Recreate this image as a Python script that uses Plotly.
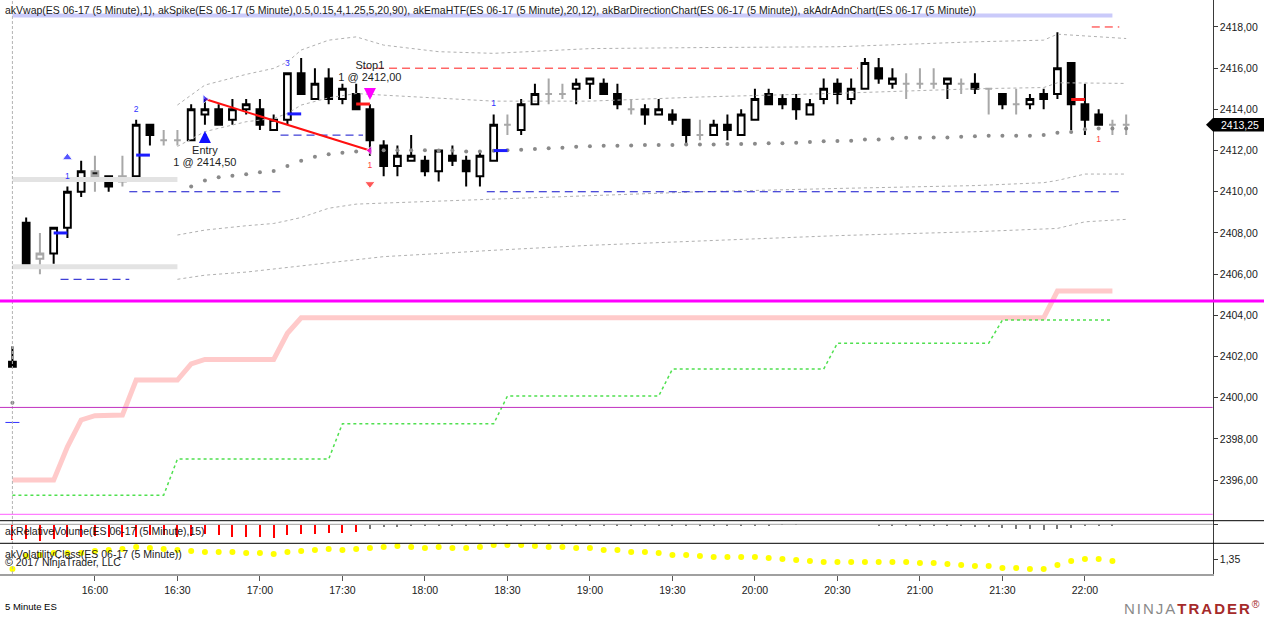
import pandas as pd
import plotly.graph_objects as go

W, H = 1264, 617
DAY = "2017-05-18 "

# one 5-minute bar every step, first one is the last bar before the session break
bar_time = pd.date_range(DAY + "15:30", periods=82, freq="5min")
time_ticks = ["16:00", "16:30", "17:00", "17:30", "18:00", "18:30", "19:00",
              "19:30", "20:00", "20:30", "21:00", "21:30", "22:00"]

bar_open = [2401.75, 2408.5, 2406.75, 2407.0, 2408.25, 2410.0, 2411.0, 2410.75, 2410.5, 2410.75,
            2413.25, 2412.5, 2412.5, 2412.5, 2413.75, 2414.0, 2413.5, 2414.0, 2414.0, 2413.0,
            2413.5, 2415.75, 2414.5, 2415.5, 2414.5, 2414.75, 2414.0, 2412.25, 2411.25, 2411.5,
            2411.5, 2411.0, 2411.75, 2411.5, 2410.75, 2411.5, 2413.25, 2413.0, 2414.25, 2414.75,
            2414.75, 2415.0, 2415.25, 2415.25, 2414.75, 2414.0, 2414.0, 2413.75, 2413.75, 2413.5,
            2412.75, 2412.75, 2413.25, 2412.75, 2413.5, 2414.75, 2414.5, 2414.5, 2413.75, 2414.5,
            2415.25, 2414.5, 2415.0, 2416.0, 2415.25, 2415.25, 2415.25, 2415.25, 2415.25, 2415.25,
            2415.25, 2415.0, 2414.75, 2414.25, 2414.25, 2414.75, 2414.75, 2416.25, 2414.25, 2413.75,
            2413.25, 2413.25]
bar_high = [2402.5, 2408.75, 2408.0, 2408.25, 2410.25, 2411.5, 2411.75, 2410.75, 2411.75, 2413.5,
            2413.25, 2413.0, 2413.0, 2414.25, 2414.5, 2414.25, 2414.5, 2414.5, 2414.5, 2413.75,
            2415.75, 2416.5, 2416.0, 2416.0, 2415.25, 2415.25, 2414.25, 2412.5, 2412.25, 2412.75,
            2411.75, 2412.0, 2412.25, 2411.75, 2412.0, 2413.75, 2413.75, 2414.5, 2415.25, 2415.5,
            2415.25, 2415.5, 2415.5, 2415.5, 2415.25, 2414.5, 2414.25, 2414.5, 2414.0, 2413.5,
            2413.5, 2413.5, 2413.75, 2414.0, 2415.0, 2415.0, 2414.75, 2414.75, 2414.5, 2415.5,
            2415.5, 2415.5, 2416.5, 2416.5, 2416.0, 2415.75, 2416.0, 2416.0, 2415.5, 2415.5,
            2415.75, 2415.0, 2414.75, 2415.0, 2414.75, 2415.0, 2417.75, 2416.25, 2415.25, 2414.0,
            2413.5, 2413.75]
bar_low = [2401.5, 2406.5, 2406.0, 2406.5, 2407.75, 2409.75, 2410.0, 2410.0, 2410.25, 2410.75,
           2412.25, 2412.25, 2412.25, 2412.5, 2413.25, 2413.25, 2413.25, 2413.75, 2413.0, 2413.0,
           2413.25, 2414.75, 2414.5, 2414.25, 2414.25, 2414.0, 2411.75, 2410.75, 2410.75, 2411.5,
           2410.75, 2410.5, 2411.25, 2410.25, 2410.25, 2411.5, 2412.75, 2412.75, 2414.25, 2414.25,
           2414.5, 2414.25, 2414.5, 2414.75, 2414.0, 2413.75, 2413.25, 2413.75, 2413.25, 2412.25,
           2412.5, 2412.75, 2412.5, 2412.75, 2413.5, 2414.25, 2414.0, 2413.5, 2413.75, 2414.25,
           2414.25, 2414.25, 2415.0, 2415.25, 2415.0, 2414.5, 2415.0, 2415.0, 2414.5, 2414.75,
           2414.75, 2413.75, 2414.0, 2413.75, 2414.0, 2414.0, 2414.5, 2413.0, 2412.75, 2413.25,
           2412.75, 2412.75]
bar_close = [2401.5, 2406.5, 2407.0, 2408.25, 2410.0, 2411.0, 2410.75, 2410.25, 2410.75, 2413.25,
             2412.75, 2412.5, 2412.5, 2414.0, 2414.0, 2413.25, 2414.0, 2414.25, 2413.25, 2413.5,
             2415.75, 2414.75, 2415.25, 2414.5, 2415.0, 2414.0, 2412.5, 2411.25, 2411.75, 2411.75,
             2411.0, 2412.0, 2411.5, 2411.0, 2411.75, 2413.25, 2413.25, 2414.25, 2414.75, 2414.75,
             2414.75, 2415.25, 2415.5, 2414.75, 2414.25, 2414.0, 2413.75, 2414.0, 2413.5, 2412.75,
             2412.75, 2413.25, 2413.0, 2413.75, 2414.5, 2414.25, 2414.25, 2414.0, 2414.25, 2415.0,
             2414.75, 2415.0, 2416.25, 2415.5, 2415.5, 2415.25, 2415.25, 2415.25, 2415.5, 2415.25,
             2415.0, 2415.0, 2414.25, 2414.25, 2414.5, 2414.5, 2416.0, 2414.25, 2413.5, 2413.25,
             2413.25, 2413.25]
# bars painted grey by akBarDirectionChart
grey_bars = [2, 6, 8, 11, 12, 36, 39, 40, 45, 50, 65, 66, 67, 69, 71, 73, 80, 81]

# akVwap dots and bands
vwap = [2399.76, None, None, None, None, None, None, None, None, None,
        None, None, None, 2410.26, 2410.55, 2410.7, 2410.78, 2410.85, 2410.95, 2411.01,
        2411.25, 2411.5, 2411.7, 2411.82, 2411.9, 2411.95, 2411.98, 2412.02, 2412.02, 2412.02,
        2412.02, 2412.0, 2412.0, 2411.96, 2411.96, 2411.99, 2412.02, 2412.04, 2412.07, 2412.11,
        2412.14, 2412.18, 2412.21, 2412.23, 2412.23, 2412.25, 2412.27, 2412.27, 2412.27, 2412.29,
        2412.29, 2412.3, 2412.32, 2412.32, 2412.33, 2412.35, 2412.35, 2412.38, 2412.42, 2412.45,
        2412.47, 2412.48, 2412.54, 2412.54, 2412.59, 2412.62, 2412.62, 2412.64, 2412.64, 2412.67,
        2412.69, 2412.72, 2412.72, 2412.72, 2412.72, 2412.75, 2412.86, 2412.9, 2413.04, 2413.07,
        2413.07, 2413.07]
band_bars = [12, 14, 17, 19, 20, 21, 23, 25, 27, 31, 35, 42, 50, 60, 70, 75, 76, 78, 81]
band_up2 = [2414.21, 2415.18, 2415.7, 2415.99, 2416.3, 2416.88, 2417.36, 2417.52, 2417.12, 2416.8,
            2416.72, 2416.95, 2417.0, 2417.04, 2417.28, 2417.36, 2417.65, 2417.56, 2417.44]
band_up1 = [2412.2, 2412.92, 2413.4, 2413.56, 2413.8, 2414.21, 2414.56, 2414.77, 2414.69, 2414.53,
            2414.4, 2414.4, 2414.6, 2414.78, 2415.0, 2415.06, 2415.29, 2415.28, 2415.26]
band_dn1 = [2407.9, 2408.14, 2408.35, 2408.46, 2408.6, 2408.75, 2409.2, 2409.4, 2409.45, 2409.55,
            2409.63, 2409.8, 2410.0, 2410.16, 2410.3, 2410.44, 2410.55, 2410.86, 2410.86]
band_dn2 = [2405.75, 2405.95, 2406.1, 2406.25, 2406.3, 2406.4, 2406.55, 2406.7, 2406.85, 2407.0,
            2407.16, 2407.4, 2407.62, 2407.87, 2408.06, 2408.22, 2408.22, 2408.54, 2408.66]

# akAdrAdnChart step lines
adr_bars = [0, 3, 4, 5, 6, 8, 9, 12, 13, 14, 19, 20, 21, 75, 76, 80]
adr_vals = [2396.0, 2396.0, 2397.62, 2398.92, 2399.13, 2399.16, 2400.86, 2400.86, 2401.64, 2401.86,
            2401.86, 2403.13, 2403.88, 2403.88, 2405.18, 2405.18]
adn_bars = [0, 11, 12, 23, 24, 35, 36, 47, 48, 59, 60, 71, 72, 80]
adn_vals = [2395.27, 2395.27, 2397.02, 2397.02, 2398.74, 2398.74, 2400.08, 2400.08, 2401.39, 2401.39,
            2402.65, 2402.65, 2403.77, 2403.77]
adr_high_level = 2404.7
adr_mid_level = 2399.53
adr_low_level = 2394.34

# dashed levels (support blue, resistance red)
sup_price = [2405.75, 2410.0, 2412.75, 2410.0]
sup_from = ["15:47:30", "16:12:30", "17:07:30", "18:22:30"]
sup_to = ["16:12:30", "17:07:30", "17:37:30", "22:12:30"]
res_price = [2416.0, 2418.0]
res_from = ["17:37:30", "22:02:30"]
res_to = ["20:37:30", "22:12:30"]
zone_price = [2410.6, 2406.36]
zone_from, zone_to = "15:30", "16:30"
spike_level = 2418.56
spike_from, spike_to = "15:30", "22:10"

# akEmaHTF marks
ema_up_bars = [3, 9, 20, 35]
ema_up_vals = [2408.0, 2411.78, 2413.78, 2412.0]
ema_dn_bars = [25, 77]
ema_dn_vals = [2414.26, 2414.48]
ema_prev = 2398.8

# akSpike counts
sig_up_bars = [4, 9, 20, 35]
sig_up_text = ["1", "2", "3", "1"]
sig_up_price = [2410.73, 2413.97, 2416.23, 2414.26]
sig_dn_bars = [26, 79]
sig_dn_text = ["1", "1"]
sig_dn_price = [2411.25, 2412.5]

# trade
entry_bar, entry_price = 14, 2414.5
exit_bar, exit_price = 26, 2412.0
last_price = 2413.25

rel_volume = [1.88, 1.75, 2.09, 1.75, 1.55, 1.55, 1.42, 1.55, 1.55, 1.55,
              1.25, 1.25, 1.55, 1.42, 1.13, 1.34, 1.55, 1.55, 1.55, 1.67,
              1.25, 1.13, 1.13, 1.0, 1.0, 0.92, 0.5, 0.34, 0.25, 0.21,
              0.2, 0.15, 0.12, 0.1, 0.15, 0.1, 0.1, 0.1, 0.12, 0.1,
              0.1, 0.1, 0.1, 0.1, 0.1, 0.12, 0.12, 0.12, 0.12, 0.12,
              0.12, 0.12, 0.12, 0.12, 0.12, 0.1, 0.05, 0.05, 0, 0,
              0, 0, 0, 0.17, 0.17, 0.17, 0.17, 0.17, 0.17, 0.2,
              0.29, 0.29, 0.37, 0.5, 0.58, 0.71, 0.58, 0.42, 0.2, 0.2,
              0.2, 0]
volatility = [1.25, 1.38, 1.39, 1.41, 1.41, 1.41, 1.43, 1.44, 1.45, 1.47,
              1.46, 1.45, 1.44, 1.43, 1.42, 1.42, 1.42, 1.41, 1.41, 1.40,
              1.42, 1.43, 1.44, 1.45, 1.44, 1.45, 1.46, 1.47, 1.48, 1.47,
              1.46, 1.47, 1.46, 1.46, 1.47, 1.49, 1.49, 1.49, 1.48, 1.47,
              1.47, 1.46, 1.46, 1.44, 1.44, 1.42, 1.42, 1.41, 1.39, 1.39,
              1.38, 1.37, 1.37, 1.37, 1.37, 1.36, 1.35, 1.34, 1.33, 1.32,
              1.32, 1.32, 1.32, 1.32, 1.32, 1.32, 1.31, 1.31, 1.30, 1.29,
              1.28, 1.28, 1.26, 1.26, 1.25, 1.25, 1.29, 1.33, 1.35, 1.35,
              1.33, None]

TITLE = ("akVwap(ES 06-17 (5 Minute),1), akSpike(ES 06-17 (5 Minute),0.5,0.15,4,1.25,5,20,90), "
         "akEmaHTF(ES 06-17 (5 Minute),20,12), akBarDirectionChart(ES 06-17 (5 Minute)), "
         "akAdrAdnChart(ES 06-17 (5 Minute))")


def t(hhmm):
    return pd.Timestamp(DAY + hhmm)


def py(row):  # pixel row -> paper y
    return 1 - row / H


FONT = "Liberation Sans, Arial, sans-serif"
X_END = 1212.7 / W

fig = go.Figure()


def line(x, y, color, width, dash=None, yaxis="y"):
    fig.add_trace(go.Scatter(x=x, y=y, mode="lines", yaxis=yaxis, hoverinfo="skip",
                             line=dict(color=color, width=width, dash=dash)))


# background levels
line([t(spike_from), t(spike_to)], [spike_level, spike_level], "#cacafa", 4)
for p in zone_price:
    line([t(zone_from), t(zone_to)], [p, p], "#e3e3e3", 5)

band_x = [bar_time[b] for b in band_bars]
for vals in (band_up2, band_up1, band_dn1, band_dn2):
    line(band_x, vals, "#b0b0b0", 1, "dot")

line([bar_time[b] for b in adr_bars], adr_vals, "#ffcaca", 5)
line([bar_time[b] for b in adn_bars], adn_vals, "#4fe04f", 1.5, "dot")

for p, a, b in zip(sup_price, sup_from, sup_to):
    line([t(a), t(b)], [p, p], "#1010cc", 1, "8px,5px")
for p, a, b in zip(res_price, res_from, res_to):
    line([t(a), t(b)], [p, p], "#ff1c1c", 1, "8px,5px")

fig.add_trace(go.Scatter(x=bar_time, y=vwap, mode="markers", hoverinfo="skip",
                         marker=dict(color="#8a8a8a", size=4)))

# candles
is_grey = [i in grey_bars for i in range(len(bar_time))]


def pick(vals, keep):
    return [v if k else None for v, k in zip(vals, keep)]


for keep, edge, dark in ((
        [not g for g in is_grey], "#000000", "#000000"), (is_grey, "#a8a8a8", "#1a1a1a")):
    fig.add_trace(go.Candlestick(
        x=bar_time, open=pick(bar_open, keep), high=pick(bar_high, keep),
        low=pick(bar_low, keep), close=pick(bar_close, keep), hoverinfo="skip",
        increasing=dict(fillcolor="#ffffff", line=dict(color=edge, width=2)),
        decreasing=dict(fillcolor=dark, line=dict(color=edge, width=2))))

# EMA HTF marks, drawn from the bar to the next one
for bars, vals, color in ((ema_up_bars, ema_up_vals, "#1c1cff"), (ema_dn_bars, ema_dn_vals, "#ff1c1c")):
    sx, sy = [], []
    for b, v in zip(bars, vals):
        sx += [bar_time[b], bar_time[b + 1], None]
        sy += [v, v, None]
    line(sx, sy, color, 3)
fig.add_trace(go.Scatter(x=[bar_time[0]], y=[ema_prev], mode="markers", hoverinfo="skip",
                         marker=dict(symbol="line-ew", size=10, line=dict(color="#3030ff", width=1))))

# trade
line([bar_time[entry_bar], bar_time[exit_bar]], [entry_price, exit_price], "#ff1010", 2)
fig.add_trace(go.Scatter(
    x=[bar_time[entry_bar], bar_time[exit_bar], bar_time[exit_bar], bar_time[sig_up_bars[0]]],
    y=[entry_price, exit_price, exit_price - 1.62, sig_up_price[0] + 0.93],
    mode="markers", hoverinfo="skip",
    marker=dict(symbol=["triangle-right", "triangle-left", "triangle-down", "triangle-up"],
                size=[8, 8, 9, 9], color=["#1010ff", "#ff00ff", "#ff1010", "#1010ff"])))

fig.add_trace(go.Scatter(x=[bar_time[b] for b in sig_up_bars], y=sig_up_price, text=sig_up_text,
                         mode="text", hoverinfo="skip",
                         textfont=dict(family=FONT, size=8.5, color="#3030ff")))
fig.add_trace(go.Scatter(x=[bar_time[b] for b in sig_dn_bars], y=sig_dn_price, text=sig_dn_text,
                         mode="text", hoverinfo="skip",
                         textfont=dict(family=FONT, size=8.5, color="#ff3a3a")))
fig.add_trace(go.Scatter(
    x=[bar_time[entry_bar]] * 2 + [bar_time[exit_bar]] * 2,
    y=[entry_price - 2.54, entry_price - 3.12, exit_price + 4.07, exit_price + 3.5],
    text=["Entry", "1 @ 2414,50", "Stop1", "1 @ 2412,00"],
    mode="text", hoverinfo="skip", textfont=dict(family=FONT, size=11, color="#1e1e1e")))

# lower panels
fig.add_trace(go.Bar(x=bar_time, y=rel_volume, yaxis="y2", hoverinfo="skip",
                     width=[43600 if v >= 0.9 else 22000 for v in rel_volume],
                     marker=dict(color=["#ff0000" if v >= 0.9 else "#777777" for v in rel_volume],
                                 line=dict(width=0))))
fig.add_trace(go.Scatter(x=bar_time, y=volatility, yaxis="y3", mode="markers", hoverinfo="skip",
                         marker=dict(color="#ffff00", size=6)))

axis_common = dict(showgrid=False, zeroline=False, showline=True, linecolor="#3a3a3a",
                   linewidth=1, ticks="outside", ticklen=4, tickcolor="#3a3a3a",
                   side="right", anchor="x", tickfont=dict(family=FONT, size=10.5, color="#1a1a1a"))

fig.update_layout(
    width=W, height=H, margin=dict(l=0, r=0, t=0, b=0),
    paper_bgcolor="white", plot_bgcolor="white", showlegend=False, separators=",.",
    font=dict(family=FONT, size=10.5, color="#1a1a1a"), bargap=0,
    xaxis=dict(type="date", domain=[0, X_END], anchor="y3",
               range=[t("15:25:29"), t("22:46:28")],
               tickvals=[t(s) for s in time_ticks], ticktext=time_ticks,
               ticks="outside", ticklen=5, tickcolor="#555555",
               showline=True, linecolor="#a0a0a0", linewidth=2,
               showgrid=False, zeroline=False, rangeslider=dict(visible=False),
               tickfont=dict(family=FONT, size=10.5, color="#1a1a1a")),
    yaxis=dict(domain=[py(520.7), 1], range=[2394.03, 2419.31], dtick=2, tick0=2396,
               tickformat=".2f", **axis_common),
    yaxis2=dict(domain=[py(543.3), py(520.7)], range=[2.375, -0.45],
                tickvals=[0], ticktext=[""], **axis_common),
    yaxis3=dict(domain=[py(574), py(543.3)], range=[1.20, 1.507],
                tickvals=[1.35], tickformat=".2f", **axis_common),
)

shapes = [
    # session break
    dict(type="line", xref="x", yref="paper", x0=bar_time[0], x1=bar_time[0], y0=py(574), y1=1,
         line=dict(color="#b4b4b4", width=1, dash="3px,2px")),
    dict(type="line", xref="paper", yref="y", x0=0, x1=1, y0=adr_high_level, y1=adr_high_level,
         line=dict(color="#ff00ff", width=3)),
    dict(type="line", xref="paper", yref="y", x0=0, x1=X_END, y0=adr_mid_level, y1=adr_mid_level,
         line=dict(color="#c030c0", width=1)),
    dict(type="line", xref="paper", yref="y", x0=0, x1=X_END, y0=adr_low_level, y1=adr_low_level,
         line=dict(color="#ff60ff", width=1)),
    dict(type="line", xref="paper", yref="paper", x0=0, x1=1, y0=py(520.7), y1=py(520.7),
         line=dict(color="#000000", width=1)),
    dict(type="line", xref="paper", yref="paper", x0=0, x1=1, y0=py(543.3), y1=py(543.3),
         line=dict(color="#000000", width=1)),
    dict(type="line", xref="paper", yref="y2", x0=0, x1=X_END, y0=0, y1=0,
         line=dict(color="#a0a0a0", width=1)),
    # last price flag
    dict(type="path", xref="paper", yref="y", fillcolor="#000000", line=dict(width=0),
         path=(f"M {1206 / W},{last_price} L {1213 / W},{last_price + 0.33} L 1,{last_price + 0.33} "
               f"L 1,{last_price - 0.33} L {1213 / W},{last_price - 0.33} Z")),
]

annotations = [
    dict(text=TITLE, x=3 / W, y=py(10), xanchor="left", yanchor="middle"),
    dict(text="akRelativeVolume(ES 06-17 (5 Minute),15)", x=3 / W, y=py(530.5),
         xanchor="left", yanchor="middle"),
    dict(text="akVolatilityClass(ES 06-17 (5 Minute))", x=3 / W, y=py(554),
         xanchor="left", yanchor="middle"),
    dict(text="© 2017 NinjaTrader, LLC", x=3 / W, y=py(561.5), xanchor="left", yanchor="middle"),
    dict(text="5 Minute ES", x=3 / W, y=py(606.5), xanchor="left", yanchor="middle",
         font=dict(size=9.5, color="#000000")),
    dict(text=f"{last_price:.2f}".replace(".", ","), x=1219 / W, y=last_price, yref="y",
         xanchor="left", yanchor="middle", font=dict(size=10.5, color="#ffffff")),
    dict(text=("<span style='color:#8a8a8a;letter-spacing:2px'>NINJA</span>"
               "<span style='color:#a52a2a;letter-spacing:2px'><b>TRADER</b></span>"
               "<sup style='color:#a52a2a'>®</sup>"),
         x=1262 / W, y=py(607), xanchor="right", yanchor="middle", font=dict(size=15)),
]
for a in annotations:
    a.setdefault("xref", "paper")
    a.setdefault("yref", "paper")
    a["showarrow"] = False

# entry / exit arrows
annotations += [
    dict(x=bar_time[entry_bar], y=entry_price - 1.55, xref="x", yref="y", text="", showarrow=True,
         ax=0, ay=12, arrowhead=2, arrowsize=0.8, arrowwidth=3, arrowcolor="#1010ff"),
    dict(x=bar_time[exit_bar], y=exit_price + 2.45, xref="x", yref="y", text="", showarrow=True,
         ax=0, ay=-12, arrowhead=2, arrowsize=0.8, arrowwidth=3, arrowcolor="#ff00ff"),
]

fig.update_layout(shapes=shapes, annotations=annotations)

# the page body has a default margin; drop it so the chart sits at the window corner
fig.write_html("out.html", config={"displayModeBar": False},
               post_script="document.body.style.margin='0px';document.body.style.overflow='hidden';")
